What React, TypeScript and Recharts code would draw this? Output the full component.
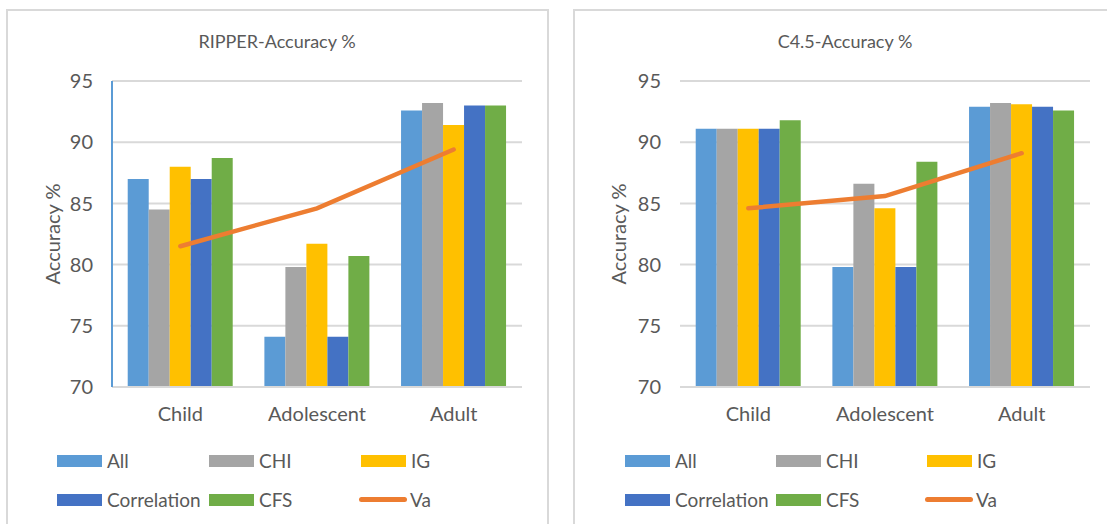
import React from "react";
import {
  Bar,
  CartesianGrid,
  ComposedChart,
  Legend,
  Line,
  XAxis,
  YAxis,
} from "recharts";

const categories = ["Child", "Adolescent", "Adult"];
const yTicks = [70, 75, 80, 85, 90, 95];

// RIPPER
const ripperAll = [87.0, 74.1, 92.6];
const ripperChi = [84.5, 79.8, 93.2];
const ripperIg = [88.0, 81.7, 91.4];
const ripperCorr = [87.0, 74.1, 93.0];
const ripperCfs = [88.7, 80.7, 93.0];
const ripperVa = [81.5, 84.6, 89.4];

// C4.5
const c45All = [91.1, 79.8, 92.9];
const c45Chi = [91.1, 86.6, 93.2];
const c45Ig = [91.1, 84.6, 93.1];
const c45Corr = [91.1, 79.8, 92.9];
const c45Cfs = [91.8, 88.4, 92.6];
const c45Va = [84.6, 85.6, 89.1];

const FONT = "Lato, 'Noto Sans', sans-serif";
const TEXT = "#595959";
const GRID = "#d9d9d9";
const FS = 20;

const series = [
  { key: "All", color: "#5B9BD5" },
  { key: "CHI", color: "#A5A5A5" },
  { key: "IG", color: "#FFC000" },
  { key: "Correlation", color: "#4472C4" },
  { key: "CFS", color: "#70AD47" },
];
const legendOrder = ["All", "CHI", "IG", "Correlation", "CFS", "Va"];

const buildRows = (
  all: number[],
  chi: number[],
  ig: number[],
  corr: number[],
  cfs: number[],
  va: number[]
) =>
  categories.map((name, i) => ({
    name,
    All: all[i],
    CHI: chi[i],
    IG: ig[i],
    Correlation: corr[i],
    CFS: cfs[i],
    Va: va[i],
  }));

const ripperData = buildRows(ripperAll, ripperChi, ripperIg, ripperCorr, ripperCfs, ripperVa);
const c45Data = buildRows(c45All, c45Chi, c45Ig, c45Corr, c45Cfs, c45Va);

// recharts sorts legend items by name, put them back in series order
const renderLegend = (colWidth: number) => (props: any) => {
  const items = [...(props.payload || [])].sort(
    (a: any, b: any) => legendOrder.indexOf(a.value) - legendOrder.indexOf(b.value)
  );
  return (
    <div
      style={{
        display: "flex",
        flexWrap: "wrap",
        width: colWidth * 3,
        fontFamily: FONT,
        fontSize: 19,
        color: TEXT,
      }}
    >
      {items.map((it: any) => (
        <div
          key={it.value}
          style={{ width: colWidth, height: 39, display: "flex", alignItems: "center" }}
        >
          {it.type === "line" ? (
            <div
              style={{
                width: 48,
                height: 5,
                borderRadius: 3,
                background: it.color,
                marginLeft: -2,
                marginRight: 3,
              }}
            />
          ) : (
            <div style={{ width: 45, height: 12, background: it.color, marginRight: 5 }} />
          )}
          <span>{it.value}</span>
        </div>
      ))}
    </div>
  );
};

type PanelProps = {
  data: any[];
  width: number;
  yAxisWidth: number;
  rightMargin: number;
  labelX: number;
  showAxisLine: boolean;
  legendLeft: number;
  colWidth: number;
};

const AccuracyChart = ({
  data,
  width,
  yAxisWidth,
  rightMargin,
  labelX,
  showAxisLine,
  legendLeft,
  colWidth,
}: PanelProps) => (
  <ComposedChart
    width={width}
    height={524}
    data={data}
    margin={{ top: 81, right: rightMargin, bottom: 107, left: 0 }}
    barCategoryGap="11.5%"
    barGap={0}
  >
    <CartesianGrid vertical={false} stroke={GRID} strokeWidth={2} />
    <XAxis
      dataKey="name"
      height={30}
      axisLine={{ stroke: GRID, strokeWidth: 2 }}
      tickLine={false}
      tickSize={10}
      tickMargin={10}
      tick={{ fill: TEXT, fontSize: FS, fontFamily: FONT }}
    />
    <YAxis
      width={yAxisWidth}
      domain={[70, 95]}
      ticks={yTicks}
      interval={0}
      axisLine={showAxisLine ? { stroke: "#5B9BD5", strokeWidth: 2 } : false}
      tickLine={false}
      tickSize={10}
      tickMargin={9}
      tick={{ fill: TEXT, fontSize: FS, fontFamily: FONT }}
      label={{
        content: (p: any) => {
          const vb = p.viewBox || { y: 81, height: 306 };
          const cy = vb.y + vb.height / 2;
          return (
            <text
              x={labelX}
              y={cy}
              transform={`rotate(-90 ${labelX} ${cy})`}
              textAnchor="middle"
              dominantBaseline="central"
              fill={TEXT}
              fontSize={FS}
              fontFamily={FONT}
            >
              Accuracy %
            </text>
          );
        },
      }}
    />
    {series.map((s) => (
      <Bar key={s.key} dataKey={s.key} fill={s.color} isAnimationActive={false} />
    ))}
    <Line
      dataKey="Va"
      type="linear"
      stroke="#ED7D31"
      strokeWidth={4.5}
      strokeLinecap="round"
      dot={false}
      activeDot={false}
      legendType="line"
      isAnimationActive={false}
    />
    <Legend
      layout="horizontal"
      verticalAlign="middle"
      align="center"
      wrapperStyle={{ top: 441, left: legendLeft, width: colWidth * 3 }}
      content={renderLegend(colWidth)}
    />
  </ComposedChart>
);

const Title = ({ text, center }: { text: string; center: number }) => (
  <div
    style={{
      position: "absolute",
      left: center - 150,
      width: 300,
      top: 29,
      lineHeight: "24px",
      textAlign: "center",
      fontFamily: FONT,
      fontSize: 18,
      color: TEXT,
    }}
  >
    {text}
  </div>
);

export default function App() {
  return (
    <div
      style={{
        position: "absolute",
        left: 0,
        top: 0,
        width: 1107,
        height: 524,
        overflow: "hidden",
        background: "#fff",
      }}
    >
      <div
        style={{
          position: "absolute",
          left: 6,
          top: 9,
          width: 539,
          height: 530,
          border: `2px solid ${GRID}`,
        }}
      />
      <div
        style={{
          position: "absolute",
          left: 573,
          top: 9,
          width: 560,
          height: 530,
          border: `2px solid ${GRID}`,
        }}
      />
      <Title text="RIPPER-Accuracy %" center={277} />
      <Title text="C4.5-Accuracy %" center={845} />
      <div style={{ position: "absolute", left: 0, top: 0 }}>
        <AccuracyChart
          data={ripperData}
          width={560}
          yAxisWidth={112}
          rightMargin={38}
          labelX={52}
          showAxisLine={true}
          legendLeft={57}
          colWidth={152}
        />
      </div>
      <div style={{ position: "absolute", left: 560, top: 0 }}>
        <AccuracyChart
          data={c45Data}
          width={547}
          yAxisWidth={120}
          rightMargin={17}
          labelX={58}
          showAxisLine={false}
          legendLeft={65}
          colWidth={151}
        />
      </div>
    </div>
  );
}
